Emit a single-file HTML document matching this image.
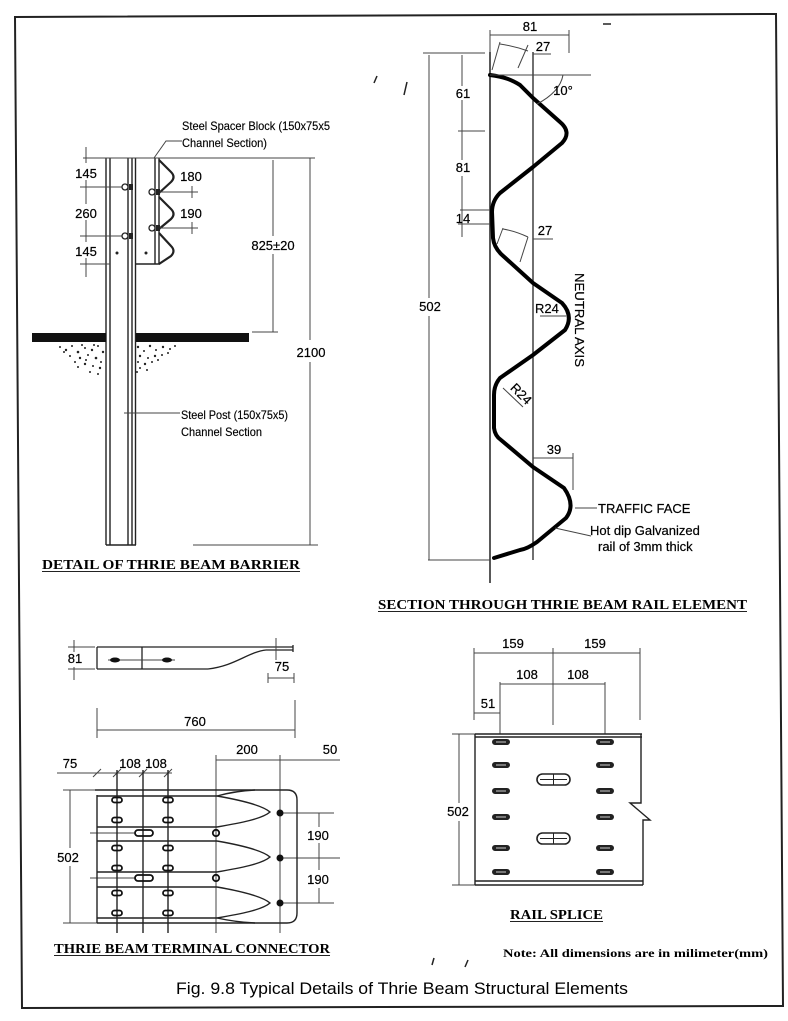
<!DOCTYPE html>
<html><head><meta charset="utf-8">
<style>
html,body{margin:0;padding:0;background:#fff;}
svg{display:block;}
text{font-family:"Liberation Sans",sans-serif;fill:#000;}
.d{font-size:13px;stroke:#000;stroke-width:0.2;}
.s{font-size:12px;stroke:#000;stroke-width:0.15;}
.t{font-family:"Liberation Serif",serif;font-weight:bold;font-size:14px;}
</style></head><body>
<svg width="788" height="1021" viewBox="0 0 788 1021" xmlns="http://www.w3.org/2000/svg">
<rect width="788" height="1021" fill="#fff"/>
<!-- frame -->
<polygon points="15,17 776,14 783,1006 22,1008" fill="none" stroke="#222" stroke-width="2"/>

<!-- ================= DETAIL OF THRIE BEAM BARRIER ================= -->
<g stroke="#222" stroke-width="1.4" fill="none">
  <line x1="106" y1="158" x2="106" y2="545"/>
  <line x1="110" y1="158" x2="110" y2="545"/>
  <line x1="128" y1="158" x2="128" y2="545"/>
  <line x1="132" y1="158" x2="132" y2="545"/>
  <line x1="135.5" y1="158" x2="135.5" y2="545"/>
  <line x1="106" y1="545" x2="136" y2="545"/>
  <line x1="155" y1="158" x2="155" y2="264"/>
  <line x1="159" y1="158" x2="159" y2="264"/>
  <line x1="136" y1="264" x2="160" y2="264"/>
  <path stroke-width="2.2" d="M159,160 L171,172 Q176,177 171,182 L159,193 M159,197 L171,209 Q176,214 171,219 L159,229 M159,233 L171,246 Q176,251 171,256 L159,264"/>
</g>
<g stroke="#444" stroke-width="1" fill="none">
  <line x1="83" y1="158" x2="315" y2="158"/>
  <line x1="86" y1="147" x2="86" y2="163"/>
  <line x1="86" y1="180" x2="86" y2="204"/>
  <line x1="86" y1="220" x2="86" y2="242"/>
  <line x1="86" y1="258" x2="86" y2="277"/>
  <line x1="80" y1="187" x2="127" y2="187"/>
  <line x1="80" y1="236" x2="127" y2="236"/>
  <line x1="80" y1="264" x2="110" y2="264"/>
  <line x1="160" y1="192" x2="198" y2="192"/>
  <line x1="160" y1="228" x2="198" y2="228"/>
  <line x1="192" y1="186" x2="192" y2="198"/>
  <line x1="192" y1="222" x2="192" y2="234"/>
  <line x1="273" y1="160" x2="273" y2="236"/>
  <line x1="273" y1="254" x2="273" y2="332"/>
  <line x1="252" y1="332" x2="278" y2="332"/>
  <line x1="310" y1="158" x2="310" y2="340"/>
  <line x1="310" y1="362" x2="310" y2="545"/>
  <line x1="193" y1="545" x2="318" y2="545"/>
  <polyline points="154,158 166,141 182,141"/>
  <line x1="124" y1="413" x2="180" y2="413"/>
</g>
<g stroke="#222" stroke-width="1.3" fill="#fff">
  <circle cx="125" cy="187" r="3"/><circle cx="125" cy="236" r="3"/>
  <circle cx="152" cy="192" r="3"/><circle cx="152" cy="228" r="3"/>
</g>
<g fill="#222">
  <rect x="129" y="184" width="4" height="6"/><rect x="129" y="233" width="4" height="6"/>
  <rect x="156" y="189" width="4" height="6"/><rect x="156" y="225" width="4" height="6"/>
  <circle cx="117" cy="253" r="1.5"/><circle cx="146" cy="253" r="1.5"/>
</g>
<rect x="32" y="333" width="74" height="9" fill="#111"/>
<rect x="136" y="333" width="113" height="9" fill="#111"/>
<g fill="#222">
  <circle cx="60" cy="347" r="1"/><circle cx="66" cy="350" r="1.2"/><circle cx="72" cy="346" r="1"/><circle cx="78" cy="352" r="1.3"/>
  <circle cx="85" cy="348" r="1"/><circle cx="92" cy="350" r="1.2"/><circle cx="98" cy="346" r="1"/><circle cx="103" cy="352" r="1.2"/>
  <circle cx="70" cy="356" r="1"/><circle cx="80" cy="358" r="1.2"/><circle cx="88" cy="355" r="1"/><circle cx="96" cy="358" r="1.3"/>
  <circle cx="101" cy="362" r="1"/><circle cx="75" cy="362" r="1"/><circle cx="85" cy="364" r="1.2"/><circle cx="93" cy="366" r="1"/>
  <circle cx="100" cy="368" r="1.2"/><circle cx="90" cy="372" r="1"/><circle cx="98" cy="374" r="1"/><circle cx="64" cy="352" r="1"/>
  <circle cx="82" cy="345" r="1"/><circle cx="94" cy="345" r="1"/><circle cx="78" cy="367" r="1"/><circle cx="86" cy="360" r="1"/>
  <circle cx="138" cy="347" r="1.2"/><circle cx="144" cy="351" r="1"/><circle cx="150" cy="346" r="1.2"/><circle cx="156" cy="350" r="1"/>
  <circle cx="163" cy="347" r="1.2"/><circle cx="170" cy="349" r="1"/><circle cx="175" cy="346" r="1"/><circle cx="140" cy="356" r="1.2"/>
  <circle cx="148" cy="358" r="1"/><circle cx="155" cy="356" r="1.2"/><circle cx="162" cy="355" r="1"/><circle cx="168" cy="353" r="1"/>
  <circle cx="138" cy="362" r="1"/><circle cx="145" cy="364" r="1.2"/><circle cx="152" cy="362" r="1"/><circle cx="158" cy="360" r="1"/>
  <circle cx="140" cy="368" r="1"/><circle cx="147" cy="370" r="1"/><circle cx="137" cy="372" r="1"/>
</g>
<text class="d" x="86" y="178" text-anchor="middle">145</text>
<text class="d" x="86" y="218" text-anchor="middle">260</text>
<text class="d" x="86" y="256" text-anchor="middle">145</text>
<text class="d" x="191" y="181" text-anchor="middle">180</text>
<text class="d" x="191" y="218" text-anchor="middle">190</text>
<text class="d" x="273" y="250" text-anchor="middle">825±20</text>
<text class="d" x="311" y="357" text-anchor="middle">2100</text>
<text class="s" x="182" y="130" textLength="148" lengthAdjust="spacingAndGlyphs">Steel Spacer Block (150x75x5</text>
<text class="s" x="182" y="147" textLength="85" lengthAdjust="spacingAndGlyphs">Channel Section)</text>
<text class="s" x="181" y="419" textLength="107" lengthAdjust="spacingAndGlyphs">Steel Post (150x75x5)</text>
<text class="s" x="181" y="436" textLength="81" lengthAdjust="spacingAndGlyphs">Channel Section</text>
<text class="t" x="42" y="569" textLength="258" lengthAdjust="spacingAndGlyphs">DETAIL OF THRIE BEAM BARRIER</text>
<line x1="42" y1="571.5" x2="300" y2="571.5" stroke="#222" stroke-width="1"/>

<!-- ================= SECTION THROUGH RAIL ================= -->
<g stroke="#222" fill="none">
  <line x1="490" y1="52" x2="490" y2="583" stroke-width="1.5"/>
  <line x1="533" y1="52" x2="533" y2="560" stroke-width="1.3"/>
  <path stroke-width="4" stroke="#000" stroke-linejoin="round" stroke-linecap="round"
   d="M490,75 C505,77 512,80 520,85 L533,98 L560,122 Q572,132 562,143 L533,167 L500,193 Q492,201 492,212 L493,238 Q494,247 501,254 L533,283 L562,303 Q574,316 565,330 L533,355 L500,378 Q494,385 494,395 L494,428 Q495,436 501,440 L533,467 L564,488 Q576,505 566,518 L537,542 Q527,549 520,550 L494,558"/>
</g>
<g stroke="#444" stroke-width="1" fill="none">
  <line x1="490" y1="35" x2="569" y2="35"/>
  <line x1="490" y1="30" x2="490" y2="52"/>
  <line x1="569" y1="30" x2="569" y2="53"/>
  <line x1="490" y1="75" x2="591" y2="75"/>
  <line x1="423" y1="53" x2="485" y2="53"/>
  <line x1="533" y1="54" x2="551" y2="54"/>
  <line x1="492" y1="70" x2="500" y2="42"/>
  <line x1="518" y1="68" x2="528" y2="45"/>
  <path d="M500,44 Q514,46 528,51"/>
  <path d="M563,75 Q560,92 537,104"/>
  <line x1="429" y1="55" x2="429" y2="298"/>
  <line x1="429" y1="316" x2="429" y2="560"/>
  <line x1="428" y1="560" x2="490" y2="560"/>
  <line x1="462" y1="55" x2="462" y2="86"/>
  <line x1="462" y1="100" x2="462" y2="160"/>
  <line x1="462" y1="176" x2="462" y2="237"/>
  <line x1="458" y1="131" x2="485" y2="131"/>
  <line x1="460" y1="210" x2="490" y2="210"/>
  <line x1="458" y1="224" x2="490" y2="224"/>
  <line x1="533" y1="239" x2="553" y2="239"/>
  <line x1="497" y1="244" x2="503" y2="228"/>
  <line x1="520" y1="262" x2="528" y2="237"/>
  <path d="M503,229 Q515,231 528,237"/>
  <line x1="540" y1="316" x2="566" y2="316"/>
  <line x1="503" y1="388" x2="523" y2="407"/>
  <line x1="533" y1="458" x2="573" y2="458"/>
  <line x1="573" y1="453" x2="573" y2="490"/>
  <line x1="575" y1="508" x2="597" y2="508"/>
  <line x1="555" y1="528" x2="591" y2="536"/>
</g>
<text class="d" x="530" y="31" text-anchor="middle">81</text>
<text class="d" x="543" y="51" text-anchor="middle">27</text>
<text class="d" x="563" y="95" text-anchor="middle">10°</text>
<text class="d" x="463" y="98" text-anchor="middle">61</text>
<text class="d" x="463" y="172" text-anchor="middle">81</text>
<text class="d" x="463" y="223" text-anchor="middle">14</text>
<text class="d" x="545" y="235" text-anchor="middle">27</text>
<text class="d" x="430" y="311" text-anchor="middle">502</text>
<text class="d" x="535" y="313">R24</text>
<text class="d" transform="translate(518,397) rotate(45)" text-anchor="middle">R24</text>
<text class="d" transform="translate(575,273) rotate(90)" textLength="94" lengthAdjust="spacingAndGlyphs">NEUTRAL AXIS</text>
<text class="d" x="554" y="454" text-anchor="middle">39</text>
<text class="d" x="598" y="513">TRAFFIC FACE</text>
<text class="d" x="590" y="535">Hot dip Galvanized</text>
<text class="d" x="598" y="551">rail of 3mm thick</text>
<text class="t" x="378" y="609" textLength="369" lengthAdjust="spacingAndGlyphs">SECTION THROUGH THRIE BEAM RAIL ELEMENT</text>
<line x1="378" y1="611.5" x2="747" y2="611.5" stroke="#222" stroke-width="1"/>
<g stroke="#222" stroke-width="1.5">
  <line x1="377" y1="76" x2="374" y2="83"/>
  <line x1="407" y1="82" x2="404" y2="95"/>
  <line x1="603" y1="24" x2="611" y2="24"/>
  <line x1="434" y1="958" x2="432" y2="965"/>
  <line x1="468" y1="960" x2="465" y2="967"/>
</g>

<!-- ================= TERMINAL CONNECTOR ================= -->
<g stroke="#222" stroke-width="1.3" fill="none">
  <line x1="97" y1="647" x2="293" y2="647"/>
  <line x1="266" y1="650" x2="293" y2="650"/>
  <line x1="97" y1="647" x2="97" y2="669"/>
  <line x1="97" y1="669" x2="208" y2="669"/>
  <path d="M208,669 C235,666 248,652 266,650"/>
  <line x1="293" y1="645" x2="293" y2="652"/>
  <line x1="142" y1="647" x2="142" y2="669"/>
</g>
<line x1="108" y1="660" x2="175" y2="660" stroke="#444" stroke-width="1"/>
<ellipse cx="115" cy="660" rx="5" ry="2.5" fill="#111"/>
<ellipse cx="167" cy="660" rx="5" ry="2.5" fill="#111"/>
<g stroke="#444" stroke-width="1" fill="none">
  <line x1="74" y1="640" x2="74" y2="652"/>
  <line x1="74" y1="667" x2="74" y2="680"/>
  <line x1="68" y1="647" x2="95" y2="647"/>
  <line x1="68" y1="669" x2="95" y2="669"/>
  <line x1="276" y1="638" x2="276" y2="660"/>
  <line x1="268" y1="678" x2="294" y2="678"/>
  <line x1="268" y1="673" x2="268" y2="683"/>
  <line x1="294" y1="673" x2="294" y2="683"/>
  <line x1="97" y1="730" x2="295" y2="730"/>
  <line x1="97" y1="708" x2="97" y2="738"/>
  <line x1="295" y1="700" x2="295" y2="738"/>
  <line x1="57" y1="773" x2="172" y2="773"/>
  <line x1="93" y1="777" x2="101" y2="769"/>
  <line x1="113" y1="777" x2="121" y2="769"/>
  <line x1="139" y1="777" x2="147" y2="769"/>
  <line x1="164" y1="777" x2="172" y2="769"/>
  <line x1="216" y1="760" x2="340" y2="760"/>
  <line x1="216" y1="755" x2="216" y2="933"/>
  <line x1="280" y1="755" x2="280" y2="933"/>
  <line x1="280" y1="813" x2="334" y2="813"/>
  <line x1="280" y1="858" x2="340" y2="858"/>
  <line x1="280" y1="903" x2="334" y2="903"/>
  <line x1="319" y1="813" x2="319" y2="827"/>
  <line x1="319" y1="843" x2="319" y2="870"/>
  <line x1="319" y1="888" x2="319" y2="903"/>
  <line x1="70" y1="790" x2="70" y2="848"/>
  <line x1="70" y1="866" x2="70" y2="923"/>
  <line x1="63" y1="790" x2="97" y2="790"/>
  <line x1="63" y1="923" x2="97" y2="923"/>
  <line x1="90" y1="833" x2="135" y2="833"/>
  <line x1="90" y1="878" x2="135" y2="878"/>
</g>
<g stroke="#222" stroke-width="1.4" fill="none">
  <line x1="117" y1="770" x2="117" y2="933"/>
  <line x1="143" y1="770" x2="143" y2="933"/>
  <line x1="168" y1="770" x2="168" y2="933"/>
  <path d="M95,790 L287,790 Q297,790 297,800 L297,913 Q297,923 287,923 L97,923"/>
  <line x1="97" y1="795" x2="97" y2="923"/>
  <line x1="97" y1="796" x2="217" y2="796"/>
  <line x1="97" y1="827" x2="217" y2="827"/>
  <line x1="97" y1="841" x2="217" y2="841"/>
  <line x1="97" y1="872" x2="217" y2="872"/>
  <line x1="97" y1="887" x2="217" y2="887"/>
  <line x1="97" y1="918" x2="217" y2="918"/>
  <path d="M217,796 C240,800 262,805 270,812 C262,819 240,823 217,827"/>
  <path d="M217,841 C240,845 262,850 270,857 C262,864 240,868 217,872"/>
  <path d="M217,887 C240,891 262,896 270,903 C262,910 240,914 217,918"/>
  <path d="M217,796 Q235,791 255,790"/>
  <path d="M217,918 Q235,922 255,923"/>
</g>
<g fill="#111">
  <circle cx="280" cy="813" r="3.5"/><circle cx="280" cy="858" r="3.5"/><circle cx="280" cy="903" r="3.5"/>
</g>
<g stroke="#111" stroke-width="1.8" fill="none">
  <circle cx="216" cy="833" r="3.2"/><circle cx="216" cy="878" r="3.2"/>
  <rect x="112" y="797.5" width="10" height="5" rx="2.5"/><rect x="112" y="817.5" width="10" height="5" rx="2.5"/>
  <rect x="112" y="845.5" width="10" height="5" rx="2.5"/><rect x="112" y="865.5" width="10" height="5" rx="2.5"/>
  <rect x="112" y="890.5" width="10" height="5" rx="2.5"/><rect x="112" y="910.5" width="10" height="5" rx="2.5"/>
  <rect x="163" y="797.5" width="10" height="5" rx="2.5"/><rect x="163" y="817.5" width="10" height="5" rx="2.5"/>
  <rect x="163" y="845.5" width="10" height="5" rx="2.5"/><rect x="163" y="865.5" width="10" height="5" rx="2.5"/>
  <rect x="163" y="890.5" width="10" height="5" rx="2.5"/><rect x="163" y="910.5" width="10" height="5" rx="2.5"/>
  <rect x="135" y="830" width="18" height="6" rx="3"/><rect x="135" y="875" width="18" height="6" rx="3"/>
</g>
<text class="d" x="75" y="663" text-anchor="middle">81</text>
<text class="d" x="282" y="671" text-anchor="middle">75</text>
<text class="d" x="195" y="726" text-anchor="middle">760</text>
<text class="d" x="70" y="768" text-anchor="middle">75</text>
<text class="d" x="130" y="768" text-anchor="middle">108</text>
<text class="d" x="156" y="768" text-anchor="middle">108</text>
<text class="d" x="247" y="754" text-anchor="middle">200</text>
<text class="d" x="330" y="754" text-anchor="middle">50</text>
<text class="d" x="318" y="840" text-anchor="middle">190</text>
<text class="d" x="318" y="884" text-anchor="middle">190</text>
<text class="d" x="68" y="862" text-anchor="middle">502</text>
<text class="t" x="54" y="953" textLength="276" lengthAdjust="spacingAndGlyphs">THRIE BEAM TERMINAL CONNECTOR</text>
<line x1="54" y1="955.5" x2="330" y2="955.5" stroke="#222" stroke-width="1"/>

<!-- ================= RAIL SPLICE ================= -->
<g stroke="#444" stroke-width="1" fill="none">
  <line x1="474" y1="653" x2="640" y2="653"/>
  <line x1="474" y1="648" x2="474" y2="720"/>
  <line x1="640" y1="648" x2="640" y2="720"/>
  <line x1="553" y1="648" x2="553" y2="725"/>
  <line x1="500" y1="684" x2="605" y2="684"/>
  <line x1="500" y1="682" x2="500" y2="734"/>
  <line x1="605" y1="682" x2="605" y2="734"/>
  <line x1="474" y1="713" x2="500" y2="713"/>
  <line x1="459" y1="734" x2="459" y2="803"/>
  <line x1="459" y1="821" x2="459" y2="885"/>
  <line x1="452" y1="734" x2="475" y2="734"/>
  <line x1="452" y1="885" x2="475" y2="885"/>
</g>
<g stroke="#222" stroke-width="1.4" fill="none">
  <line x1="475" y1="734" x2="642" y2="734"/>
  <line x1="475" y1="737" x2="642" y2="737"/>
  <line x1="475" y1="881" x2="643" y2="881"/>
  <line x1="475" y1="885" x2="643" y2="885"/>
  <line x1="475" y1="734" x2="475" y2="885"/>
  <polyline points="641,734 641,803 630,803 650,820 643,820 643,885"/>
</g>
<g fill="#222">
  <rect x="492" y="739" width="18" height="6" rx="3"/><rect x="492" y="762" width="18" height="6" rx="3"/>
  <rect x="492" y="788" width="18" height="6" rx="3"/><rect x="492" y="814" width="18" height="6" rx="3"/>
  <rect x="492" y="845" width="18" height="6" rx="3"/><rect x="492" y="869" width="18" height="6" rx="3"/>
  <rect x="596" y="739" width="18" height="6" rx="3"/><rect x="596" y="762" width="18" height="6" rx="3"/>
  <rect x="596" y="788" width="18" height="6" rx="3"/><rect x="596" y="814" width="18" height="6" rx="3"/>
  <rect x="596" y="845" width="18" height="6" rx="3"/><rect x="596" y="869" width="18" height="6" rx="3"/>
</g>
<g stroke="#ccc" stroke-width="1">
  <line x1="496" y1="742" x2="506" y2="742"/><line x1="496" y1="765" x2="506" y2="765"/>
  <line x1="496" y1="791" x2="506" y2="791"/><line x1="496" y1="817" x2="506" y2="817"/>
  <line x1="496" y1="848" x2="506" y2="848"/><line x1="496" y1="872" x2="506" y2="872"/>
  <line x1="600" y1="742" x2="610" y2="742"/><line x1="600" y1="765" x2="610" y2="765"/>
  <line x1="600" y1="791" x2="610" y2="791"/><line x1="600" y1="817" x2="610" y2="817"/>
  <line x1="600" y1="848" x2="610" y2="848"/><line x1="600" y1="872" x2="610" y2="872"/>
</g>
<g stroke="#222" stroke-width="1.6" fill="#fff">
  <rect x="537" y="774" width="33" height="11" rx="5.5"/>
  <rect x="537" y="833" width="33" height="11" rx="5.5"/>
</g>
<g stroke="#222" stroke-width="1">
  <line x1="553.5" y1="774" x2="553.5" y2="785"/><line x1="540" y1="779.5" x2="567" y2="779.5"/>
  <line x1="553.5" y1="833" x2="553.5" y2="844"/><line x1="540" y1="838.5" x2="567" y2="838.5"/>
</g>
<text class="d" x="513" y="648" text-anchor="middle">159</text>
<text class="d" x="595" y="648" text-anchor="middle">159</text>
<text class="d" x="527" y="679" text-anchor="middle">108</text>
<text class="d" x="578" y="679" text-anchor="middle">108</text>
<text class="d" x="488" y="708" text-anchor="middle">51</text>
<text class="d" x="458" y="816" text-anchor="middle">502</text>
<text class="t" x="510" y="919" textLength="93" lengthAdjust="spacingAndGlyphs">RAIL SPLICE</text>
<line x1="510" y1="921.5" x2="603" y2="921.5" stroke="#222" stroke-width="1"/>
<text x="503" y="957" style="font-family:'Liberation Serif',serif;font-weight:bold;font-size:12px;" textLength="265" lengthAdjust="spacingAndGlyphs">Note: All dimensions are in milimeter(mm)</text>

<!-- caption -->
<text x="176" y="994" style="font-size:17px;" textLength="452" lengthAdjust="spacingAndGlyphs">Fig. 9.8 Typical Details of Thrie Beam Structural Elements</text>
</svg>
</body></html>
